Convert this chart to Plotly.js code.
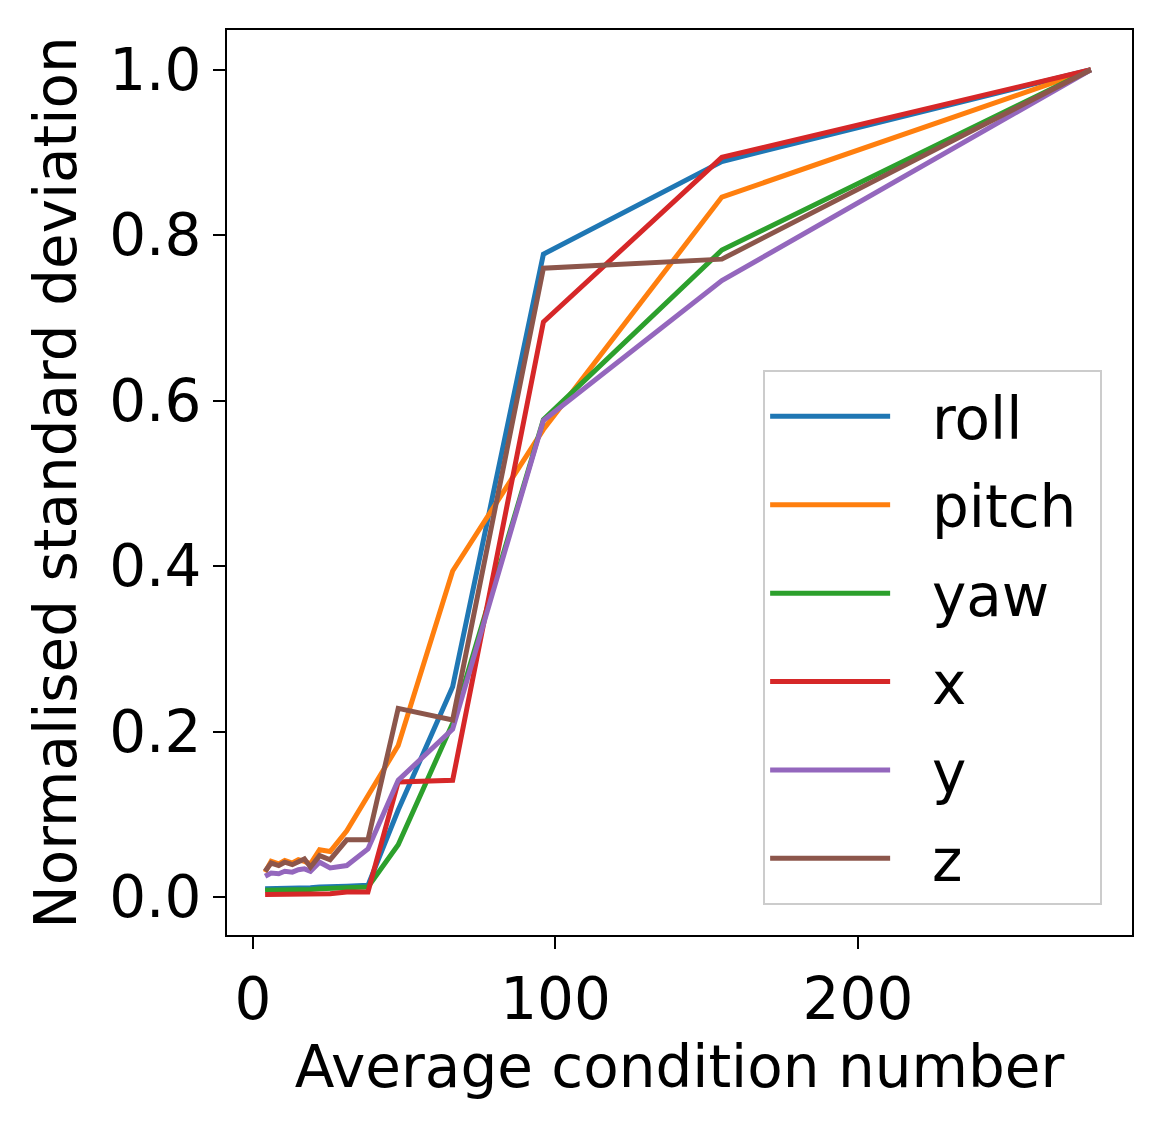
<!DOCTYPE html>
<html>
<head>
<meta charset="utf-8">
<script src="https://cdn.plot.ly/plotly-3.0.1.min.js"></script>
<style>
  html, body { margin: 0; padding: 0; background: #fff; }
  #chart { width: 1161px; height: 1125px; }
</style>
</head>
<body>
<div id="chart"></div>
<script>
// average condition number (shared x)
var condNumber = [4, 6, 8.5, 10.5, 13, 15, 17, 19, 22, 25.5, 31, 38, 48, 66, 96, 155, 277];

var seriesNames = ["roll", "pitch", "yaw", "x", "y", "z"];
var roll  = [0.010, 0.010, 0.010, 0.011, 0.010, 0.011, 0.011, 0.011, 0.012, 0.012, 0.013, 0.014, 0.105, 0.254, 0.777, 0.889, 1.0];
var pitch = [0.030, 0.043, 0.040, 0.044, 0.041, 0.045, 0.043, 0.040, 0.057, 0.055, 0.080, 0.122, 0.183, 0.394, 0.565, 0.846, 1.0];
var yaw   = [0.008, 0.008, 0.008, 0.009, 0.008, 0.009, 0.009, 0.009, 0.010, 0.010, 0.011, 0.012, 0.063, 0.210, 0.577, 0.782, 1.0];
var xPos  = [0.003, 0.003, 0.003, 0.004, 0.003, 0.004, 0.004, 0.004, 0.004, 0.004, 0.006, 0.006, 0.139, 0.141, 0.695, 0.894, 1.0];
var yPos  = [0.025, 0.029, 0.028, 0.031, 0.030, 0.033, 0.034, 0.031, 0.042, 0.035, 0.038, 0.058, 0.141, 0.203, 0.576, 0.745, 1.0];
var zPos  = [0.031, 0.041, 0.038, 0.042, 0.039, 0.043, 0.046, 0.036, 0.050, 0.045, 0.069, 0.069, 0.228, 0.214, 0.760, 0.771, 1.0];

var xTicks = [0, 100, 200];
var yTicks = [0.0, 0.2, 0.4, 0.6, 0.8, 1.0];

var colors = ["#1f77b4", "#ff7f0e", "#2ca02c", "#d62728", "#9467bd", "#8c564b"];
var allY = [roll, pitch, yaw, xPos, yPos, zPos];

// non-breaking spaces widen the gap between legend line and label
var pad = "\u00a0\u00a0";

var traces = seriesNames.map(function (name, i) {
  return {
    x: condNumber,
    y: allY[i],
    type: "scatter",
    mode: "lines",
    name: pad + name + "\u00a0",
    legendgroup: name,
    line: { color: colors[i], width: 5 }
  };
});

var font = { family: "DejaVu Sans", size: 58, color: "#000" };

var layout = {
  width: 1161,
  height: 1125,
  margin: { l: 227, r: 29, t: 30, b: 190 },
  paper_bgcolor: "#fff",
  plot_bgcolor: "#fff",
  font: font,
  showlegend: true,
  legend: {
    x: 0.967,
    y: 0.033,
    xanchor: "right",
    yanchor: "bottom",
    bordercolor: "#cccccc",
    borderwidth: 2,
    bgcolor: "#fff",
    traceorder: "grouped",
    tracegroupgap: 10,
    itemwidth: 120,
    font: font
  },
  xaxis: {
    range: [-8.6, 290.6],
    tickvals: xTicks,
    ticks: "outside",
    ticklen: 12,
    tickwidth: 2,
    tickcolor: "#000",
    showline: true,
    linecolor: "#000",
    linewidth: 2,
    mirror: true,
    showgrid: false,
    zeroline: false,
    title: { text: "Average condition number", font: font, standoff: 14 }
  },
  yaxis: {
    range: [-0.046, 1.048],
    tickvals: yTicks,
    tickformat: ".1f",
    ticks: "outside",
    ticklen: 12,
    tickwidth: 2,
    tickcolor: "#000",
    showline: true,
    linecolor: "#000",
    linewidth: 2,
    mirror: true,
    showgrid: false,
    zeroline: false,
    title: { text: "Normalised standard deviation", font: font, standoff: 14 }
  }
};

Plotly.newPlot("chart", traces, layout, { displayModeBar: false, staticPlot: true });
</script>
</body>
</html>
